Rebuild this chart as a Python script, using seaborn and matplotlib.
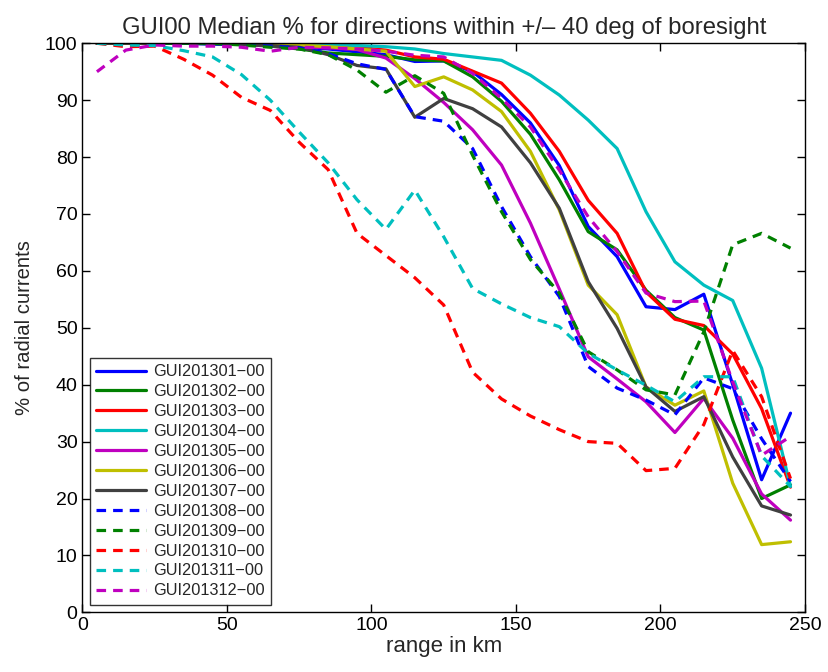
import numpy as np
import pandas as pd
import matplotlib
matplotlib.use("Agg")
import matplotlib.pyplot as plt
import seaborn as sns

range_km = [5, 15, 25, 35, 45, 55, 65, 75, 85, 95, 105, 115, 125,
            135, 145, 155, 165, 175, 185, 195, 205, 215, 225, 235, 245]

gui201301 = [100, 100, 100, 100, 99.9, 99.8, 99.6, 99.3, 99.0, 98.5, 98.0, 96.8, 96.9,
             95.0, 91.0, 86.0, 78.5, 67.8, 62.5, 53.7, 53.2, 55.9, 40.0, 23.3, 35.0]
gui201302 = [100, 100, 100, 100, 99.9, 99.8, 99.5, 99.0, 98.3, 98.0, 97.7, 97.1, 96.9,
             94.1, 89.8, 84.0, 76.0, 66.9, 63.7, 56.6, 51.8, 49.6, 33.8, 20.0, 22.4]
gui201303 = [100, 100, 100, 100, 100, 99.9, 99.8, 99.6, 99.5, 99.3, 98.8, 97.6, 97.2,
             95.1, 93.0, 87.7, 81.0, 72.4, 66.6, 56.3, 51.5, 50.4, 45.4, 35.8, 22.0]
gui201304 = [100, 100, 100, 100, 100, 100, 100, 100, 99.8, 99.6, 99.4, 99.0, 98.2,
             97.6, 97.0, 94.4, 90.9, 86.5, 81.5, 70.4, 61.6, 57.5, 54.8, 42.9, 22.1]
gui201305 = [100, 100, 100, 100, 100, 99.8, 99.6, 99.4, 99.2, 98.9, 97.4, 93.8, 89.6,
             84.8, 78.6, 68.4, 56.8, 44.9, 41.0, 37.0, 31.6, 37.6, 30.6, 20.8, 16.2]
gui201306 = [100, 100, 100, 100, 100, 100, 99.9, 99.7, 99.4, 99.0, 98.6, 92.4, 94.1,
             91.8, 88.0, 81.0, 70.7, 57.5, 52.3, 39.6, 36.4, 38.9, 22.7, 11.9, 12.4]
gui201307 = [100, 100, 100, 100, 100, 99.8, 99.6, 99.3, 98.0, 96.1, 95.5, 87.0, 90.3,
             88.5, 85.3, 79.0, 71.0, 58.1, 49.9, 39.6, 35.3, 37.9, 27.3, 18.7, 17.1]
gui201308 = [100, 100, 100, 100, 99.9, 99.8, 99.5, 99.2, 98.2, 96.4, 95.4, 87.1, 86.3,
             81.5, 71.3, 62.5, 55.5, 43.2, 39.4, 37.3, 34.7, 41.2, 39.3, 30.5, 23.0]
gui201309 = [100, 100, 100, 100, 100, 99.7, 99.3, 99.0, 98.0, 95.3, 91.4, 94.3, 91.2,
             80.3, 70.4, 62.0, 56.1, 45.8, 42.6, 39.1, 38.2, 49.3, 64.6, 66.6, 64.0]
gui201310 = [100, 99.4, 99.5, 97.2, 94.4, 90.5, 88.2, 82.6, 77.8, 66.6, 62.7, 58.8, 54.0,
             42.2, 37.5, 34.5, 32.1, 30.0, 29.7, 24.9, 25.3, 33.0, 46.0, 37.9, 23.5]
gui201311 = [100, 99.7, 99.6, 98.7, 97.6, 94.5, 90.0, 84.4, 79.0, 72.5, 67.3, 74.2, 66.0,
             56.9, 54.2, 51.8, 50.2, 45.5, 42.6, 39.9, 37.0, 41.4, 41.4, 27.5, 22.1]
gui201312 = [95.0, 98.8, 99.7, 99.5, 99.5, 99.3, 98.6, 99.3, 99.2, 99.0, 98.6, 97.9, 97.6,
             94.7, 90.3, 85.3, 77.7, 69.5, 63.4, 56.1, 54.6, 54.7, 40.5, 27.6, 30.9]

series_names = ["GUI201301\u221200", "GUI201302\u221200", "GUI201303\u221200",
                "GUI201304\u221200", "GUI201305\u221200", "GUI201306\u221200",
                "GUI201307\u221200", "GUI201308\u221200", "GUI201309\u221200",
                "GUI201310\u221200", "GUI201311\u221200", "GUI201312\u221200"]
series_values = [gui201301, gui201302, gui201303, gui201304, gui201305, gui201306,
                 gui201307, gui201308, gui201309, gui201310, gui201311, gui201312]

x_ticks = [0, 50, 100, 150, 200, 250]
y_ticks = [0, 10, 20, 30, 40, 50, 60, 70, 80, 90, 100]

colors = ["#0000ff", "#008000", "#ff0000", "#00bfbf", "#bf00bf", "#bfbf00",
          "#404040", "#0000ff", "#008000", "#ff0000", "#00bfbf", "#bf00bf"]

rows = []
for name, vals in zip(series_names, series_values):
    for xv, yv in zip(range_km, vals):
        rows.append({"range": xv, "pct": yv, "series": name})
df = pd.DataFrame(rows)

sns.set_theme(style="white")
plt.rcParams['font.family'] = ['Liberation Sans', 'DejaVu Sans']

fig = plt.figure(figsize=(8.29, 6.72), dpi=100)
ax = fig.add_axes([0.0995, 0.0888, 0.8715, 0.8468])

palette = dict(zip(series_names, colors))
dashes = {n: ("" if i < 7 else (3, 2.2)) for i, n in enumerate(series_names)}

sns.lineplot(data=df, x="range", y="pct", hue="series", style="series",
             hue_order=series_names, style_order=series_names,
             palette=palette, dashes=dashes, linewidth=2.3, ax=ax,
             legend=False, estimator=None, sort=False)

from matplotlib.lines import Line2D
handles = [Line2D([0], [0], color=c, lw=2.3,
                  linestyle=("-" if i < 7 else (0, (3, 2.2))))
           for i, c in enumerate(colors)]
leg = ax.legend(handles, series_names, loc="lower left", fontsize=11.8,
                frameon=True, fancybox=False, handlelength=3.0,
                labelspacing=0.3, borderpad=0.4, handletextpad=0.45,
                bbox_to_anchor=(0.0, 0.0), borderaxespad=0.45)
leg.get_frame().set_edgecolor("black")
leg.get_frame().set_linewidth(1.0)

ax.set_xlim(0, 250)
ax.set_ylim(0, 100)
ax.set_xticks(x_ticks)
ax.set_yticks(y_ticks)
ax.tick_params(direction="in", length=6, width=1, labelsize=14,
               top=True, right=True, bottom=True, left=True, colors="black")
for s in ax.spines.values():
    s.set_color("black")
    s.set_linewidth(1.0)

ax.set_xlabel("range in km", fontsize=16, labelpad=1)
ax.set_ylabel("% of radial currents", fontsize=14.6, labelpad=8)
ax.set_title("GUI00 Median % for directions within +/\u2013 40 deg of boresight",
             fontsize=17.2, pad=7)

fig.savefig("out.png", dpi=100)
